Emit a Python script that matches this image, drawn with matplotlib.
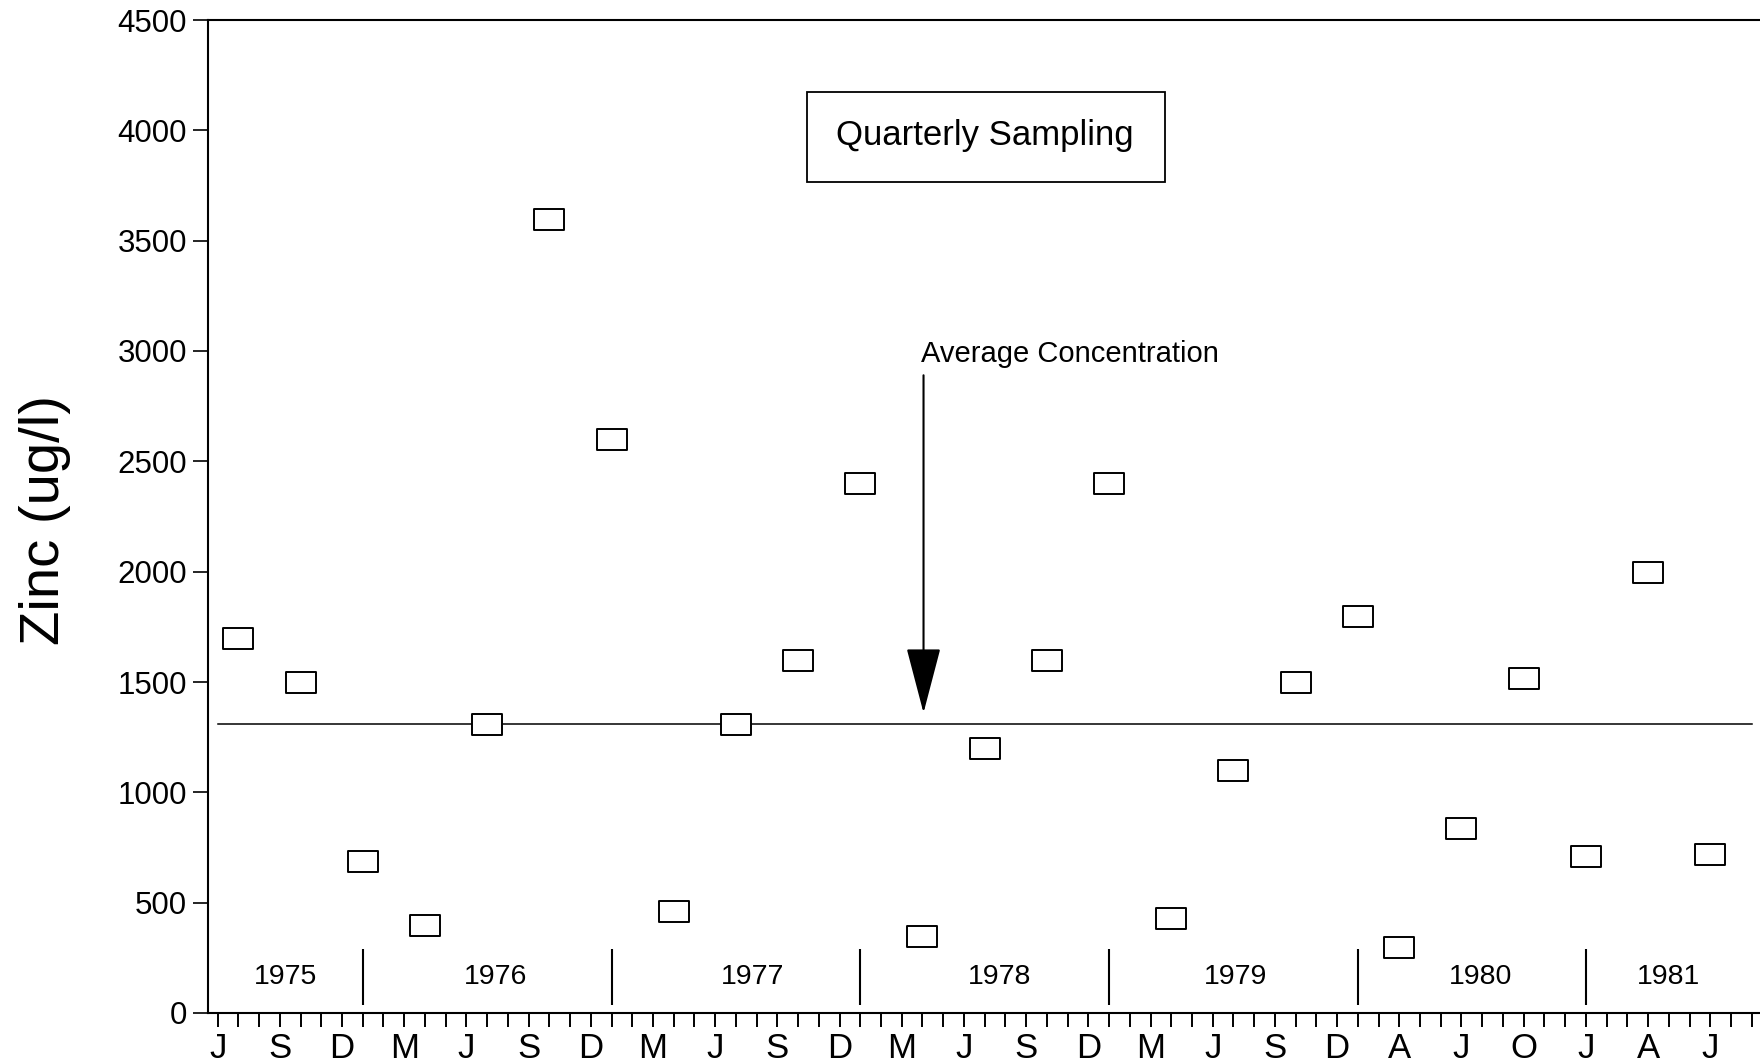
import numpy as np
import matplotlib
matplotlib.use("Agg")
import matplotlib.pyplot as plt
from matplotlib.path import Path
from matplotlib.patches import Rectangle

plt.rcParams['font.family'] = ['Liberation Sans', 'DejaVu Sans']

# sample index (months from first tick) and zinc concentration, ug/l
sample_month = [1, 4, 7, 10, 13, 16, 19, 22, 25, 28, 31, 34, 37, 40, 43,
                46, 49, 52, 55, 57, 60, 63, 66, 69, 72]
zinc = [1700, 1500, 690, 400, 1310, 3600, 2600, 460, 1310, 1600, 2400, 350,
        1200, 1600, 2400, 430, 1100, 1500, 1800, 300, 840, 1520, 710, 2000, 720]
avg_conc = 1310

month_labels = ['J', 'S', 'D', 'M', 'J', 'S', 'D', 'M', 'J', 'S', 'D', 'M',
                'J', 'S', 'D', 'M', 'J', 'S', 'D', 'A', 'J', 'O', 'J', 'A', 'J']
years = ['1975', '1976', '1977', '1978', '1979', '1980', '1981']
year_breaks = [7, 19, 31, 43, 55, 66]
year_label_pos = [3.3, 13.4, 25.8, 37.7, 49.1, 60.9, 70.0]

W, H = 1760, 1063
fig = plt.figure(figsize=(W / 100, H / 100), dpi=100)
x0, y0, y1 = 207.7, 1013, 20
ax = fig.add_axes([x0 / W, (H - y0) / H, 1 - x0 / W, (y0 - y1) / H])

ax.set_xlim(-0.48, 74.4)
ax.set_ylim(0, 4500)

for side in ['left', 'top', 'bottom']:
    ax.spines[side].set_linewidth(1.5)
ax.spines['right'].set_visible(False)

ax.set_yticks(np.arange(0, 4501, 500))
ax.tick_params(axis='y', direction='out', length=11, width=1.2, pad=4,
               labelsize=22.5)

ax.set_xticks(np.arange(0, 3 * len(month_labels), 3))
ax.set_xticklabels(month_labels)
ax.set_xticks(np.arange(0, 75), minor=True)
ax.tick_params(axis='x', which='both', direction='out', length=10, width=1.4)
ax.tick_params(axis='x', which='major', labelsize=25, pad=4)

# rectangular open markers
rect = Path([(-1, -0.7), (1, -0.7), (1, 0.7), (-1, 0.7), (-1, -0.7)],
            [Path.MOVETO, Path.LINETO, Path.LINETO, Path.LINETO, Path.CLOSEPOLY])
ax.plot(sample_month, zinc, linestyle='none', marker=rect, markersize=21.6,
        markerfacecolor='white', markeredgecolor='black', markeredgewidth=1.4,
        zorder=3)

# average line
ax.plot([0, 74], [avg_conc, avg_conc], color='black', lw=1.1, zorder=2)

# year separators and labels
ax.vlines(year_breaks, 36, 288, color='black', lw=1.5)
for xp, yr in zip(year_label_pos, years):
    ax.text(xp, 165, yr, ha='center', va='center', fontsize=20.5)

# annotation arrow
ax.annotate('', xy=(34.05, avg_conc + 50), xytext=(34.05, 2890),
            arrowprops=dict(arrowstyle='-|>,head_length=2.1,head_width=0.55',
                            mutation_scale=20, lw=1.5, color='black',
                            shrinkA=0, shrinkB=0))
ax.text(33.95, 2985, 'Average Concentration', ha='left', va='center',
        fontsize=21)

# title box
ax.add_patch(Rectangle((28.43, 3766), 45.7 - 28.43, 4174 - 3766,
                       facecolor='white', edgecolor='black', lw=1.3, zorder=4))
ax.text(37.0, 3975, 'Quarterly Sampling', ha='center', va='center',
        fontsize=25, zorder=5)

fig.text(45 / W, 1 - 520 / H, 'Zinc (ug/l)', rotation=90, ha='center',
         va='center', fontsize=40.5)

fig.savefig('out.png', dpi=100)
